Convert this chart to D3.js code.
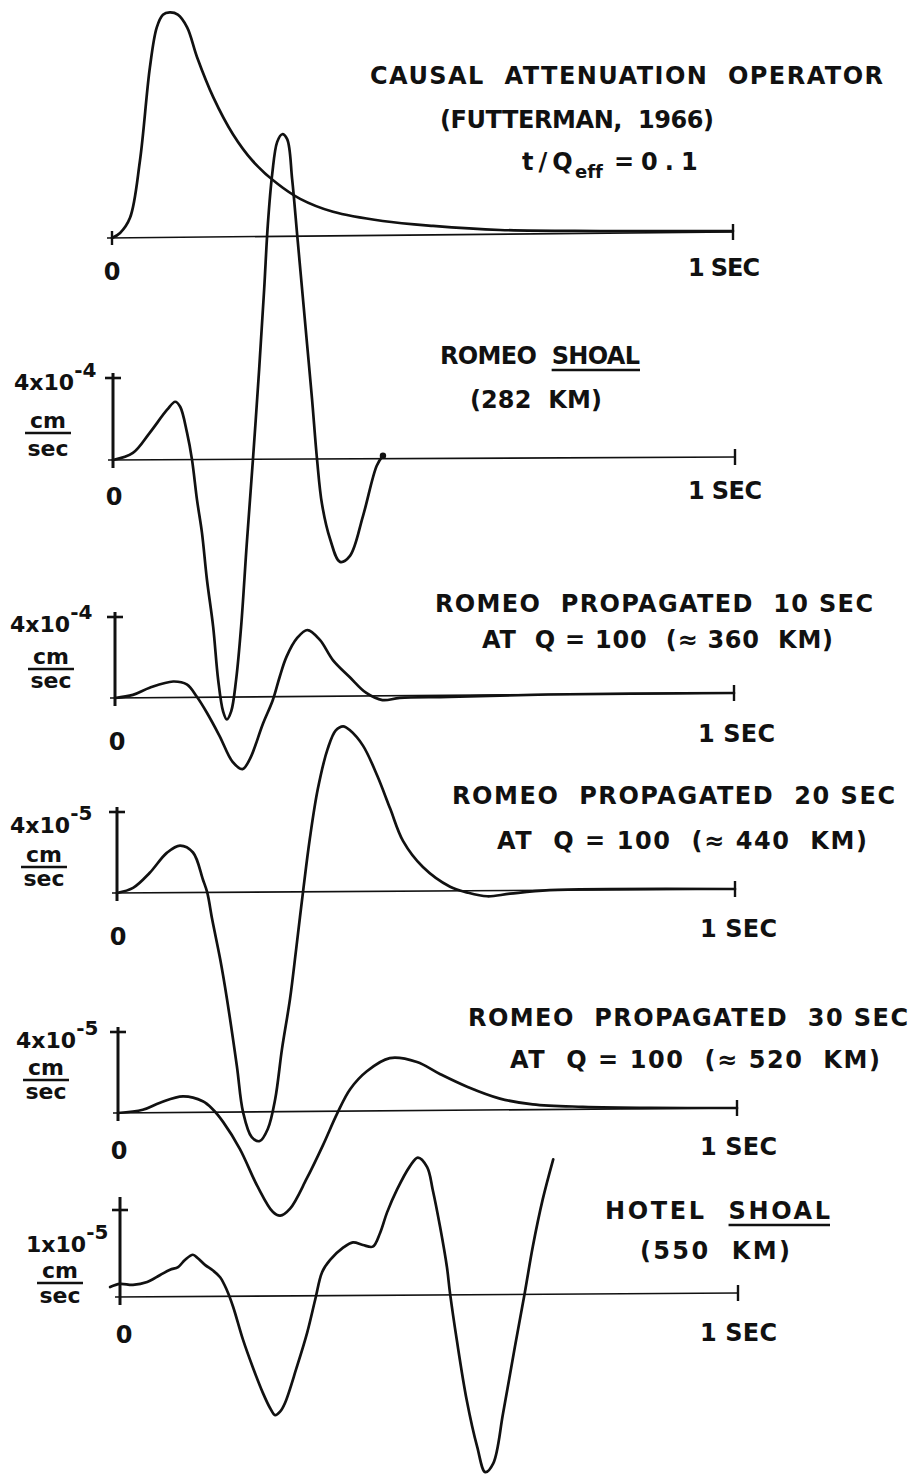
<!DOCTYPE html>
<html>
<head>
<meta charset="utf-8">
<script src="https://cdn.jsdelivr.net/npm/d3@7"></script>
<style>
  html, body { margin: 0; padding: 0; background: #fff; }
  svg text { font-family: "DejaVu Sans", sans-serif; font-weight: bold; fill: #111; white-space: pre; font-variant-ligatures: none; }
</style>
</head>
<body>
<div id="chart"></div>
<script>
// time in seconds, amplitude in units of each trace's scale tick
const futT = [0, .013, .029, .045, .061, .072, .082, .093, .106, .121, .137, .163, .195, .227, .266, .303, .356, .436, .517, .625, .786, 1.0];
const futA = [0, .022, .089, .342, .756, .933, .99, 1.0, .99, .933, .80, .622, .455, .335, .235, .166, .107, .064, .040, .019, .010, .004];

const shoalT = [0, .032, .059, .087, .100, .108, .119, .127, .135, .143, .151, .161, .169, .177, .183, .190, .198, .206, .215, .225,
                .235, .243, .249, .256, .264, .272, .280, .288, .296, .304, .312, .320, .328, .336, .349, .365, .381, .402, .424, .434];
const shoalA = [0, .085, .329, .61, .707, .646, .329, 0, -.488, -.89, -1.463, -2.037, -2.683, -3.073, -3.171, -3.073, -2.683, -2.037, -1.037, 0,
                1.1, 2.07, 2.87, 3.48, 3.87, 3.963, 3.902, 3.415, 2.744, 2.073, 1.402, .732, 0, -.55, -.976, -1.256, -1.183, -.695, -.085, .037];

const p10T = [0, .029, .056, .094, .116, .132, .148, .169, .190, .206, .218, .239, .255, .266, .277, .294, .311, .331, .352, .379, .406, .432, .46, .54, .70, 1.0];
const p10A = [0, .037, .123, .198, .16, .01, -.185, -.48, -.80, -.89, -.765, -.333, -.04, .243, .49, .72, .82, .697, .447, .236, .037, -.052, -.028, -.02, 0, 0];

const p20T = [0, .026, .053, .081, .102, .123, .139, .146, .154, .167, .178, .194, .204, .218, .231, .244, .256, .267, .280, .290, .301,
              .312, .325, .341, .354, .366, .377, .398, .421, .442, .463, .495, .539, .566, .599, .636, .70, 1.0];
const p20A = [0, .062, .247, .494, .58, .494, .16, 0, -.333, -.827, -1.32, -2.148, -2.716, -3.025, -3.074, -2.926, -2.556, -1.938, -1.32, -.70, 0,
              .654, 1.27, 1.765, 1.99, 2.04, 1.99, 1.80, 1.43, 1.02, .617, .296, .05, -.02, -.07, -.04, 0, 0];

const p30T = [0, .04, .068, .105, .137, .153, .170, .197, .225, .25, .262, .278, .305, .331, .354, .375, .402, .439, .483, .52, .564, .617, .67, .751, .86, 1.0];
const p30A = [0, .037, .123, .198, .136, .037, -.123, -.457, -.914, -1.235, -1.284, -1.198, -.827, -.42, -.03, .27, .49, .65, .60, .45, .29, .14, .065, .03, .01, 0];

const hotelT = [-.016, 0, .021, .044, .065, .081, .094, .105, .118, .126, .138, .15, .162, .173, .183, .199, .215, .231, .243, .251, .259, .267, .286, .303, .316,
                .327, .34, .361, .377, .393, .409, .421, .432, .448, .469, .482, .497, .506, .518, .529, .534, .545, .561, .578, .591, .604, .62, .639, .655, .668, .684, .701];
const hotelA = [.115, .15, .138, .17, .25, .31, .34, .42, .48, .44, .36, .30, .22, .07, -.12, -.50, -.82, -1.11, -1.29, -1.37, -1.33, -1.23, -.82, -.42, -.04,
                .27, .41, .55, .61, .58, .56, .72, .95, 1.21, 1.48, 1.58, 1.47, 1.21, .78, .32, .02, -.52, -1.21, -1.75, -2.04, -1.94, -1.36, -.60, .02, .55, 1.09, 1.55];

const captions = [
  ["CAUSAL  ATTENUATION  OPERATOR", "(FUTTERMAN,  1966)"],
  ["ROMEO  SHOAL", "(282  KM)"],
  ["ROMEO  PROPAGATED  10 SEC", "AT  Q = 100  (≈ 360  KM)"],
  ["ROMEO  PROPAGATED  20 SEC", "AT  Q = 100  (≈ 440  KM)"],
  ["ROMEO  PROPAGATED  30 SEC", "AT  Q = 100  (≈ 520  KM)"],
  ["HOTEL  SHOAL", "(550  KM)"]
];
const qParts = ["t/Q", "eff", "=0.1"];
const scaleMant = [null, "4x10", "4x10", "4x10", "4x10", "1x10"];
const scaleExp = [null, "-4", "-4", "-5", "-5", "-5"];
const unitTop = "cm", unitBottom = "sec";
const timeLabels = ["0", "1 SEC"];
const underlined = "SHOAL";

// layout of each trace on the page
const panels = [
  { t: futT, a: futA, x0: 112, x1: 733, baseL: 238, baseR: 232, unit: 225, yAxis: false,
    cap: [[370, 883, 84], [440, 714, 128]], zero: [112, 280], sec: [688, 760, 276] },
  { t: shoalT, a: shoalA, x0: 113, x1: 735, baseL: 460, baseR: 457, unit: 82, yAxis: true, dot: true,
    cap: [[440, 640, 364], [470, 602, 408]], zero: [114, 505], sec: [688, 762, 499],
    lab: { x: 14, y: 390, cx: 48, cm: 428, sec: 456 } },
  { t: p10T, a: p10A, x0: 115, x1: 734, baseL: 698, baseR: 693, unit: 81, yAxis: true,
    cap: [[435, 873, 612], [482, 833, 648]], zero: [117, 750], sec: [698, 775, 742],
    lab: { x: 10, y: 632, cx: 51, cm: 664, sec: 688 } },
  { t: p20T, a: p20A, x0: 117, x1: 735, baseL: 893, baseR: 889, unit: 81, yAxis: true,
    cap: [[452, 895, 804], [497, 867, 849]], zero: [118, 945], sec: [700, 777, 937],
    lab: { x: 10, y: 833, cx: 44, cm: 862, sec: 886 } },
  { t: p30T, a: p30A, x0: 118, x1: 737, baseL: 1113, baseR: 1108, unit: 81, yAxis: true,
    cap: [[468, 908, 1026], [510, 880, 1068]], zero: [119, 1159], sec: [700, 777, 1155],
    lab: { x: 16, y: 1048, cx: 46, cm: 1075, sec: 1099 } },
  { t: hotelT, a: hotelA, x0: 120, x1: 738, baseL: 1297, baseR: 1293, unit: 87, yAxis: true, topExtra: 13,
    cap: [[605, 830, 1219], [640, 790, 1259]], zero: [124, 1343], sec: [700, 777, 1341],
    lab: { x: 26, y: 1252, cx: 60, cm: 1278, sec: 1303 } }
];

const W = 912, H = 1476;
const svg = d3.select("#chart").append("svg")
    .attr("width", W).attr("height", H)
    .attr("viewBox", [0, 0, W, H]);
svg.append("rect").attr("width", W).attr("height", H).attr("fill", "#fff");

function fitText(g, str, xa, xb, y, size) {
  return g.append("text")
      .attr("x", xa).attr("y", y)
      .attr("font-size", size)
      .attr("textLength", xb - xa)
      .attr("lengthAdjust", "spacing")
      .text(str);
}

function underline(g, textSel, str, y) {
  const i = str.indexOf(underlined);
  if (i < 0) return;
  const n = textSel.node();
  const s = n.getStartPositionOfChar(i).x;
  const e = n.getEndPositionOfChar(i + underlined.length - 1).x;
  g.append("line").attr("x1", s).attr("x2", e).attr("y1", y + 6).attr("y2", y + 6)
      .attr("stroke", "#111").attr("stroke-width", 2.4);
}

panels.forEach((p, k) => {
  const g = svg.append("g");
  const x = d3.scaleLinear().domain([0, 1]).range([p.x0, p.x1]);
  const base = d3.scaleLinear().domain([0, 1]).range([p.baseL, p.baseR]);
  const amp = d3.scaleLinear().domain([0, 1]).range([0, -p.unit]);

  // time axis
  g.append("line")
      .attr("x1", x(0) - 5).attr("y1", base(0))
      .attr("x2", x(1)).attr("y2", base(1))
      .attr("stroke", "#111").attr("stroke-width", 1.6);
  g.append("line")
      .attr("x1", x(1)).attr("x2", x(1))
      .attr("y1", base(1) - 8).attr("y2", base(1) + 8)
      .attr("stroke", "#111").attr("stroke-width", 2.4);

  if (p.yAxis) {
    const top = base(0) + amp(1);
    g.append("line")
        .attr("x1", x(0)).attr("x2", x(0))
        .attr("y1", base(0) + 8).attr("y2", top - (p.topExtra || 5))
        .attr("stroke", "#111").attr("stroke-width", 3);
    g.append("line")
        .attr("x1", x(0) - 8).attr("x2", x(0) + 8)
        .attr("y1", top).attr("y2", top)
        .attr("stroke", "#111").attr("stroke-width", 2.6);
  } else {
    g.append("line")
        .attr("x1", x(0)).attr("x2", x(0))
        .attr("y1", base(0) - 7).attr("y2", base(0) + 7)
        .attr("stroke", "#111").attr("stroke-width", 2.4);
  }

  const pts = p.t.map((t, i) => ({ t, a: p.a[i] }));
  const line = d3.line()
      .x(d => x(d.t))
      .y(d => base(d.t) + amp(d.a))
      .curve(d3.curveCatmullRom.alpha(0.5));
  g.append("path")
      .attr("d", line(pts))
      .attr("fill", "none")
      .attr("stroke", "#111")
      .attr("stroke-width", 2.7)
      .attr("stroke-linejoin", "round")
      .attr("stroke-linecap", "round");

  if (p.dot) {
    const last = pts[pts.length - 1];
    g.append("circle")
        .attr("cx", x(last.t)).attr("cy", base(last.t) + amp(last.a))
        .attr("r", 3.2).attr("fill", "#111");
  }

  // time labels
  g.append("text").attr("x", p.zero[0]).attr("y", p.zero[1])
      .attr("font-size", 24).attr("text-anchor", "middle").text(timeLabels[0]);
  fitText(g, timeLabels[1], p.sec[0], p.sec[1], p.sec[2], 24);

  // captions
  captions[k].forEach((str, j) => {
    const c = p.cap[j];
    const t = fitText(g, str, c[0], c[1], c[2], 24);
    underline(g, t, str, c[2]);
  });

  // amplitude scale label
  if (p.lab) {
    const L = p.lab;
    const t = g.append("text").attr("x", L.x).attr("y", L.y).attr("font-size", 22);
    t.append("tspan").text(scaleMant[k]);
    t.append("tspan").attr("dy", -13).attr("font-size", 20).text(scaleExp[k]);
    const cm = g.append("text").attr("x", L.cx).attr("y", L.cm)
        .attr("font-size", 22).attr("text-anchor", "middle").text(unitTop);
    const w = cm.node().getComputedTextLength();
    g.append("line").attr("x1", L.cx - w / 2 - 5).attr("x2", L.cx + w / 2 + 5)
        .attr("y1", L.cm + 5).attr("y2", L.cm + 5)
        .attr("stroke", "#111").attr("stroke-width", 2.4);
    g.append("text").attr("x", L.cx).attr("y", L.sec)
        .attr("font-size", 22).attr("text-anchor", "middle").text(unitBottom);
  }
});

// t/Q_eff line under the first caption
const q = svg.append("text").attr("y", 170).attr("font-size", 24);
q.append("tspan").attr("x", 522).attr("letter-spacing", 5).text(qParts[0]);
q.append("tspan").attr("x", 575).attr("dy", 8).attr("font-size", 18).text(qParts[1]);
q.append("tspan").attr("x", 614).attr("dy", -8).attr("letter-spacing", 7).text(qParts[2]);
</script>
</body>
</html>
